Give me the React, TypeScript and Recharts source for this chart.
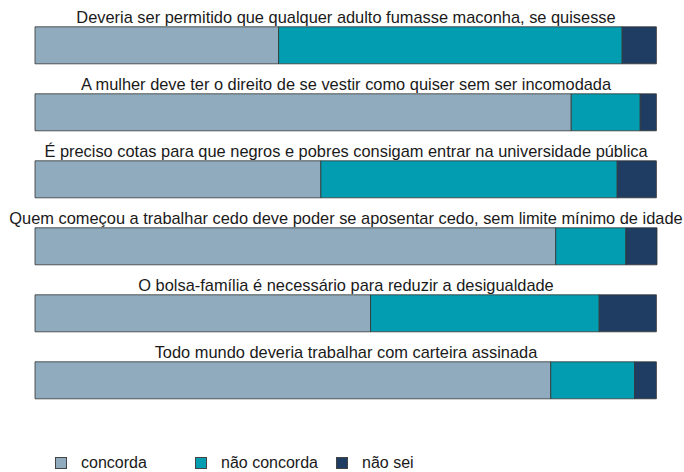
import { BarChart, Bar, XAxis, YAxis, Legend, LabelList } from "recharts";

const statements = [
  "Deveria ser permitido que qualquer adulto fumasse maconha, se quisesse",
  "A mulher deve ter o direito de se vestir como quiser sem ser incomodada",
  "É preciso cotas para que negros e pobres consigam entrar na universidade pública",
  "Quem começou a trabalhar cedo deve poder se aposentar cedo, sem limite mínimo de idade",
  "O bolsa-família é necessário para reduzir a desigualdade",
  "Todo mundo deveria trabalhar com carteira assinada",
];
const concorda = [39.2, 86.3, 46.0, 83.8, 54.0, 83.0];
const naoConcorda = [55.3, 11.1, 47.7, 11.3, 36.8, 13.5];
const naoSei = [5.5, 2.6, 6.3, 5.0, 9.2, 3.5];

const seriesNames = ["concorda", "não concorda", "não sei"];
const seriesColors = ["#8fabbd", "#039db1", "#1f3d63"];

const data = statements.map((title, i) => ({
  title,
  concorda: concorda[i],
  naoConcorda: naoConcorda[i],
  naoSei: naoSei[i],
}));

const FONT = "'Liberation Sans', Arial, sans-serif";
const W = 684;
const H = 472;
const margin = { top: 12, right: 27, left: 35, bottom: 38 };
const plotCenter = margin.left + (W - margin.left - margin.right) / 2;

// title sits just above each bar, centred on the plot area
function TitleLabel(props: any) {
  const { y, value } = props;
  return (
    <text
      x={plotCenter}
      y={y - 3.5}
      textAnchor="middle"
      fontFamily={FONT}
      fontSize={16.4}
      fill="#1a1a1a"
    >
      {value}
    </text>
  );
}

function LegendContent() {
  const lefts = [55, 195, 336];
  return (
    <div style={{ position: "relative", height: 20, width: W }}>
      {seriesNames.map((name, i) => (
        <div
          key={name}
          style={{
            position: "absolute",
            left: lefts[i],
            top: 0,
            display: "flex",
            alignItems: "center",
            fontFamily: FONT,
            fontSize: 16,
            color: "#1a1a1a",
          }}
        >
          <span
            style={{
              display: "inline-block",
              width: 10,
              height: 10,
              background: seriesColors[i],
              border: "1px solid #444",
              marginRight: 14,
            }}
          />
          {name}
        </div>
      ))}
    </div>
  );
}

export default function App() {
  return (
    <div style={{ position: "absolute", left: 0, top: 0, background: "#fff" }}>
      <BarChart width={W} height={H} data={data} layout="vertical" margin={margin} barCategoryGap={14.8}>
        <XAxis type="number" domain={[0, 100]} hide />
        <YAxis type="category" dataKey="title" hide />
        <Bar dataKey="concorda" stackId="a" fill={seriesColors[0]} stroke="#333" strokeWidth={0.8} isAnimationActive={false}>
          <LabelList dataKey="title" content={<TitleLabel />} />
        </Bar>
        <Bar dataKey="naoConcorda" stackId="a" fill={seriesColors[1]} stroke="#333" strokeWidth={0.8} isAnimationActive={false} />
        <Bar dataKey="naoSei" stackId="a" fill={seriesColors[2]} stroke="#333" strokeWidth={0.8} isAnimationActive={false} />
        <Legend
          content={<LegendContent />}
          wrapperStyle={{ position: "absolute", left: 0, top: 454, width: W, height: 20 }}
        />
      </BarChart>
    </div>
  );
}
